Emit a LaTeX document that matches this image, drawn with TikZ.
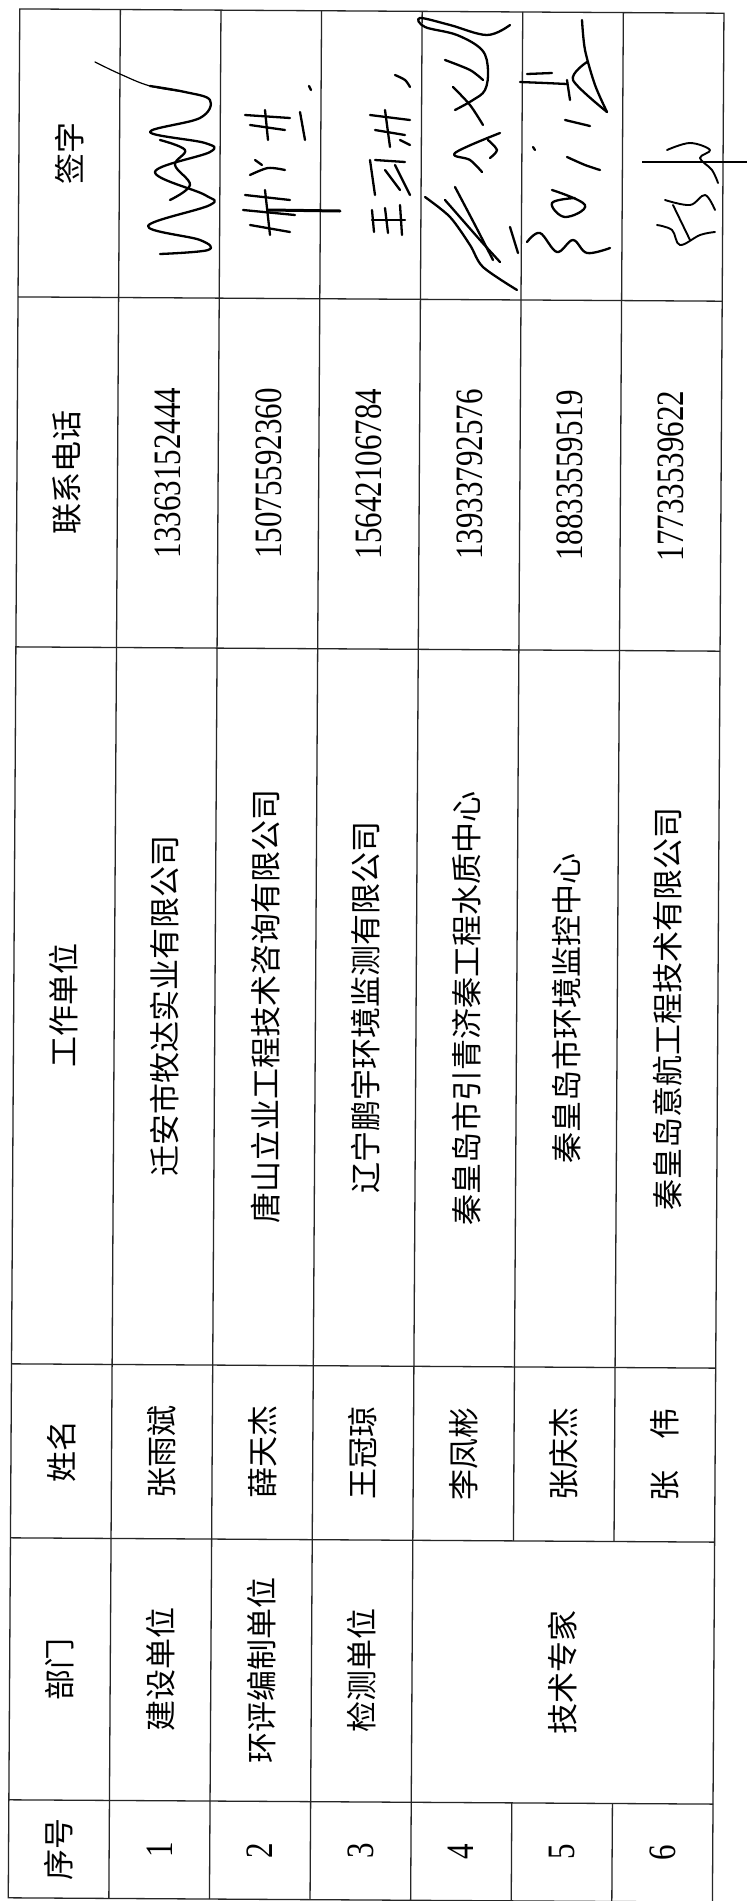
\documentclass[tikz,border=0pt]{standalone}
\usepackage{fontspec}
\usepackage{graphicx}
\newfontfamily\cjk{Noto Sans CJK SC}
\newfontfamily\numserif{Liberation Serif}
\newcommand\cjkfont{\cjk\fontsize{31}{36}\selectfont}
\newcommand\numfont{\numserif\fontsize{31}{36}\selectfont}
\newcommand\tall[1]{\scalebox{1}[1.25]{#1}}
\tikzset{
  gridline/.style={line width=1.3pt, black!85},
  cell/.style={rotate=90, inner sep=0pt, font=\cjkfont},
  num/.style={rotate=90, inner sep=0pt, font=\numfont},
  sig/.style={line width=2.3pt, line cap=round, line join=round},
}
\begin{document}
\begin{tikzpicture}[x=1pt,y=-1pt]
\useasboundingbox (0,0) rectangle (747,1901);
\fill[white] (0,0) rectangle (747,1901);
\def\RW{100.6}
\begin{scope}[rotate around={-0.35:(366,956)}]
  % outer frame
  \draw[gridline] (14,11) rectangle (718.2,1900);
  % row separators (vertical in picture)
  \foreach \i in {1,2,3,4}{
    \draw[gridline] ({14+\i*\RW},11) -- ({14+\i*\RW},1900);
  }
  \foreach \i in {5,6}{
    \draw[gridline] ({14+\i*\RW},11) -- ({14+\i*\RW},1540);
    \draw[gridline] ({14+\i*\RW},1802) -- ({14+\i*\RW},1900);
  }
  % column separators (horizontal in picture)
  \foreach \y in {299,649,1366,1540,1802}{
    \draw[gridline] (14,\y) -- (718.2,\y);
  }
  % header row
  \node[cell] (h1) at (64.3,1851) {序号};
  \node[cell] (h2) at (64.3,1671) {部门};
  \node[cell] (h3) at (64.3,1453) {姓名};
  \node[cell] (h4) at (64.3,1007.5) {工作单位};
  \node[cell] (h5) at (64.3,474) {联系电话};
  \node[cell] (h6) at (64.3,155) {签字};
  % numbers
  \node[num] (n1) at (164.9,1851) {\tall{1}};
  \node[num] (n2) at (265.5,1851) {\tall{2}};
  \node[num] (n3) at (366.1,1851) {\tall{3}};
  \node[num] (n4) at (466.7,1851) {\tall{4}};
  \node[num] (n5) at (567.3,1851) {\tall{5}};
  \node[num] (n6) at (667.9,1851) {\tall{6}};
  % departments
  \node[cell] (d1) at (164.9,1671) {建设单位};
  \node[cell] (d2) at (265.5,1671) {环评编制单位};
  \node[cell] (d3) at (366.1,1671) {检测单位};
  \node[cell] (d4) at (567.3,1671) {技术专家};
  % names
  \node[cell] (p1) at (164.9,1453) {张雨斌};
  \node[cell] (p2) at (265.5,1453) {薛天杰};
  \node[cell] (p3) at (366.1,1453) {王冠琼};
  \node[cell] (p4) at (466.7,1453) {李凤彬};
  \node[cell] (p5) at (567.3,1453) {张庆杰};
  \node[cell] (p6) at (667.9,1453) {张　伟};
  % units
  \node[cell] (u1) at (164.9,1007.5) {迁安市牧达实业有限公司};
  \node[cell] (u2) at (265.5,1007.5) {唐山立业工程技术咨询有限公司};
  \node[cell] (u3) at (366.1,1007.5) {辽宁鹏宇环境监测有限公司};
  \node[cell] (u4) at (466.7,1007.5) {秦皇岛市引青济秦工程水质中心};
  \node[cell] (u5) at (567.3,1007.5) {秦皇岛市环境监控中心};
  \node[cell] (u6) at (667.9,1007.5) {秦皇岛意航工程技术有限公司};
  % phones
  \node[num] (t1) at (164.9,474) {\tall{13363152444}};
  \node[num] (t2) at (265.5,474) {\tall{15075592360}};
  \node[num] (t3) at (366.1,474) {\tall{15642106784}};
  \node[num] (t4) at (466.7,474) {\tall{13933792576}};
  \node[num] (t5) at (567.3,474) {\tall{18833559519}};
  \node[num] (t6) at (667.9,474) {\tall{17733539622}};
\end{scope}
% ---- handwritten signatures (approximate strokes) ----
% row 1
\draw[sig, line width=1.2pt] plot[smooth, tension=0.6] coordinates {(95,62) (120,74) (150,86) (185,92)};
\draw[sig] plot[smooth, tension=0.6] coordinates {(150,86) (185,92) (210,100) (200,118) (150,132) (205,143) (210,152) (155,172) (205,195) (210,205) (148,226) (200,240) (208,250) (160,254)};
\draw[sig] plot[smooth, tension=0.6] coordinates {(160,140) (185,150) (175,165) (190,185) (170,200)};
% row 2
\draw[sig] (245,195) -- (290,200);
\draw[sig] (243,210) -- (295,215);
\draw[sig] (250,225) -- (290,232);
\draw[sig] (265,190) -- (270,235);
\draw[sig, line width=3pt] (268,210) -- (340,211);
\draw[sig] plot[smooth] coordinates {(255,160) (262,165)};
\draw[sig] plot[smooth] coordinates {(250,175) (268,168) (285,170)};
\draw[sig] (245,115) -- (290,118);
\draw[sig] (250,125) -- (285,130);
\draw[sig] (265,110) -- (268,140);
\draw[sig] (300,112) -- (305,140);
\draw[sig] (309,86) -- (311,90);
% row 3
\draw[sig] (372,210) -- (374,232);
\draw[sig] (385,208) -- (388,233);
\draw[sig] (400,205) -- (402,235);
\draw[sig] (372,220) -- (405,220);
\draw[sig] (370,160) -- (375,195);
\draw[sig] (375,160) -- (405,162);
\draw[sig] (385,170) -- (400,190);
\draw[sig] (395,165) -- (410,195);
\draw[sig] (370,115) -- (410,120);
\draw[sig] (375,130) -- (405,135);
\draw[sig] (385,110) -- (390,147);
\draw[sig] (400,140) -- (410,145);
\draw[sig] plot[smooth] coordinates {(395,75) (405,80) (410,87)};
% row 4
\draw[sig] plot[smooth, tension=0.6] coordinates {(510,25) (487,35) (450,25) (420,18) (425,27) (457,35) (482,50) (488,70) (485,90) (473,100) (455,110)};
\draw[sig] plot[smooth] coordinates {(445,60) (470,70) (483,80)};
\draw[sig] plot[smooth] coordinates {(453,87) (470,105) (483,125)};
\draw[sig] plot[smooth, tension=0.6] coordinates {(500,133) (455,153) (470,160) (482,172)};
\draw[sig] plot[smooth] coordinates {(488,140) (497,150) (490,158)};
\draw[sig] plot[smooth] coordinates {(425,197) (450,217) (470,245) (483,267) (517,290)};
\draw[sig] plot[smooth] coordinates {(455,187) (475,225) (493,260)};
\draw[sig] plot[smooth] coordinates {(445,200) (480,240) (500,262)};
\draw[sig] plot[smooth] coordinates {(510,227) (518,253)};
% row 5
\draw[sig] plot[smooth] coordinates {(582,20) (585,50) (595,85) (607,112)};
\draw[sig] plot[smooth] coordinates {(587,62) (573,80) (607,112)};
\draw[sig] plot[smooth] coordinates {(520,82) (545,83) (567,84)};
\draw[sig] plot[smooth] coordinates {(527,74) (552,73)};
\draw[sig] plot[smooth] coordinates {(567,80) (570,100)};
\draw[sig] plot[smooth] coordinates {(565,120) (590,126)};
\draw[sig] plot[smooth] coordinates {(567,157) (585,165) (600,170)};
\draw[sig] (533,147) -- (535,150);
\draw[sig] plot[smooth, tension=0.7] coordinates {(552,190) (585,205) (565,217) (552,203) (575,198)};
\draw[sig] plot[smooth, tension=0.6] coordinates {(527,242) (540,233) (557,252) (573,240) (587,253) (610,248)};
% row 6
\draw[line width=1.5pt] (642,162) -- (747,162);
\draw[sig, line width=1.9pt] plot[smooth, tension=0.6] coordinates {(667,150) (690,143) (710,150) (700,158) (712,170) (718,183)};
\draw[sig, line width=1.9pt] plot[smooth, tension=0.6] coordinates {(665,200) (690,205) (705,195) (715,210)};
\draw[sig, line width=1.9pt] plot[smooth, tension=0.6] coordinates {(657,225) (672,230) (680,245) (700,235) (715,232)};
\draw[sig, line width=1.9pt] plot[smooth] coordinates {(673,205) (690,240)};
\end{tikzpicture}
\end{document}
